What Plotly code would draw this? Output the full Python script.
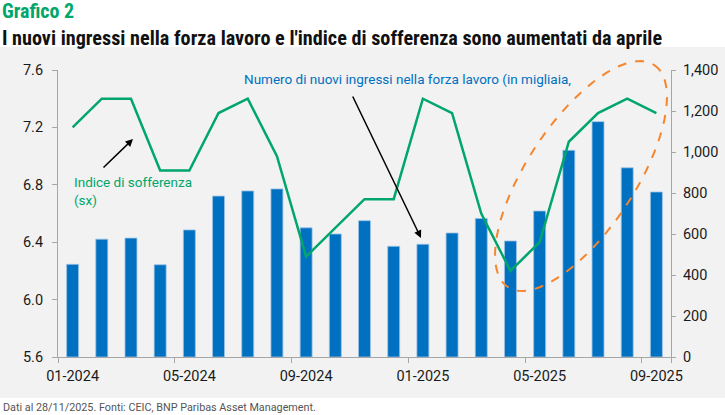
import numpy as np
import plotly.graph_objects as go

# months Jan 2024 - Sep 2025
months = ["01-2024", "02-2024", "03-2024", "04-2024", "05-2024", "06-2024", "07-2024",
          "08-2024", "09-2024", "10-2024", "11-2024", "12-2024", "01-2025", "02-2025",
          "03-2025", "04-2025", "05-2025", "06-2025", "07-2025", "08-2025", "09-2025"]
new_entrants = [452, 575, 580, 450, 620, 785, 810, 820, 630, 600, 665, 540,
                550, 605, 676, 566, 712, 1008, 1148, 923, 805]
misery_index = [7.2, 7.4, 7.4, 6.9, 6.9, 7.3, 7.4, 7.0, 6.3, 6.5, 6.7, 6.7,
                7.4, 7.3, 6.6, 6.2, 6.4, 7.1, 7.3, 7.4, 7.3]
tick_months = ["01-2024", "05-2024", "09-2024", "01-2025", "05-2025", "09-2025"]

W, H = 725, 415
L, R, T, B = 58, 671, 70, 357
GREEN = "#00a66b"
BLUE = "#0070c0"
FONT = "Roboto"
NARROW = "Liberation Sans Narrow, Roboto Condensed, Roboto"


def px(x):
    return (x - L) / (R - L)


def py(y):
    return (B - y) / (B - T)


fig = go.Figure()
fig.add_trace(go.Bar(x=months, y=new_entrants, yaxis="y", width=0.41,
                     marker=dict(color=BLUE, line=dict(color="#9dc3e6", width=0.8))))
fig.add_trace(go.Scatter(x=months, y=misery_index, yaxis="y2", mode="lines",
                         line=dict(color=GREEN, width=2.5)))

axis_col = "#a6a6a6"
fig.update_layout(
    width=W, height=H,
    margin=dict(l=L, r=W - R, t=T, b=H - B),
    paper_bgcolor="white", plot_bgcolor="#f2f2f2",
    showlegend=False,
    font=dict(family=FONT, size=14, color="#1a1a1a"),
    xaxis=dict(type="category", tickvals=tick_months, tickson="boundaries",
               tickangle=0, automargin=False, ticklabelstandoff=6,
               ticks="outside", ticklen=5, tickcolor=axis_col,
               showline=True, linecolor=axis_col, linewidth=1, showgrid=False,
               tickfont=dict(size=14.5)),
    yaxis=dict(side="right", range=[0, 1400], dtick=200, tickformat=",",
               ticks="outside", ticklen=4, tickcolor=axis_col, automargin=False,
               tickfont=dict(size=14.5), ticklabelstandoff=4,
               showline=True, linecolor=axis_col, showgrid=False, zeroline=False),
    yaxis2=dict(side="left", overlaying="y", range=[5.6, 7.6], dtick=0.4,
                tickformat=".1f", ticks="outside", ticklen=5, tickcolor=axis_col,
                tickfont=dict(size=14.5), automargin=False, ticklabelstandoff=6,
                showline=True, linecolor=axis_col, showgrid=False, zeroline=False),
)

# grey panel behind the chart
fig.add_shape(type="rect", xref="paper", yref="paper", layer="below",
              x0=px(0), x1=px(W), y0=py(398), y1=py(47),
              fillcolor="#f2f2f2", line=dict(width=0))

# dashed highlight ellipse
cx, cy, a, b, th = 581, 176, 133, 54, np.deg2rad(56.6)
t = np.linspace(0, 2 * np.pi, 80)
ex = cx + a * np.cos(t) * np.cos(th) + b * np.sin(t) * np.sin(th)
ey = cy - a * np.cos(t) * np.sin(th) + b * np.sin(t) * np.cos(th)
path = "M " + " L ".join(f"{px(x):.4f},{py(y):.4f}" for x, y in zip(ex, ey)) + " Z"
fig.add_shape(type="path", path=path, xref="paper", yref="paper",
              line=dict(color="#f5862e", width=2, dash="dash"))

ann = []
ann.append(dict(text="<b>Grafico 2</b>", x=px(0), y=py(11), xanchor="left", yanchor="middle",
                font=dict(family=NARROW, size=20, color=GREEN)))
ann.append(dict(text="<b>I nuovi ingressi nella forza lavoro e l'indice di sofferenza sono aumentati da aprile</b>",
                x=px(0), y=py(38), xanchor="left", yanchor="middle",
                font=dict(family=NARROW, size=20.2, color="#111111")))
ann.append(dict(text="Indice di sofferenza<br>(sx)", x=px(72), y=py(191), xanchor="left",
                yanchor="middle", align="left", font=dict(size=13.5, color=GREEN)))
ann.append(dict(text="Numero di nuovi ingressi nella forza lavoro (in migliaia,",
                x=px(242), y=py(79), xanchor="left", yanchor="middle",
                font=dict(size=13.5, color=BLUE)))
ann.append(dict(text="Dati al 28/11/2025. Fonti: CEIC, BNP Paribas Asset Management.",
                x=px(1), y=py(407), xanchor="left", yanchor="middle",
                font=dict(size=10.8, color="#555555")))
for hx, hy, tx, ty in [(133, 139, 102, 169), (421, 238, 352, 95)]:
    ann.append(dict(text="", x=px(hx), y=py(hy), ax=tx - hx, ay=ty - hy,
                    showarrow=True, arrowhead=2, arrowsize=1, arrowwidth=1.5,
                    arrowcolor="black"))
for d in ann:
    d.setdefault("showarrow", False)
    d.update(xref="paper", yref="paper")
fig.update_layout(annotations=ann)

fig.write_html("out.html", config={"displayModeBar": False},
               post_script="document.body.style.margin='0px';")
